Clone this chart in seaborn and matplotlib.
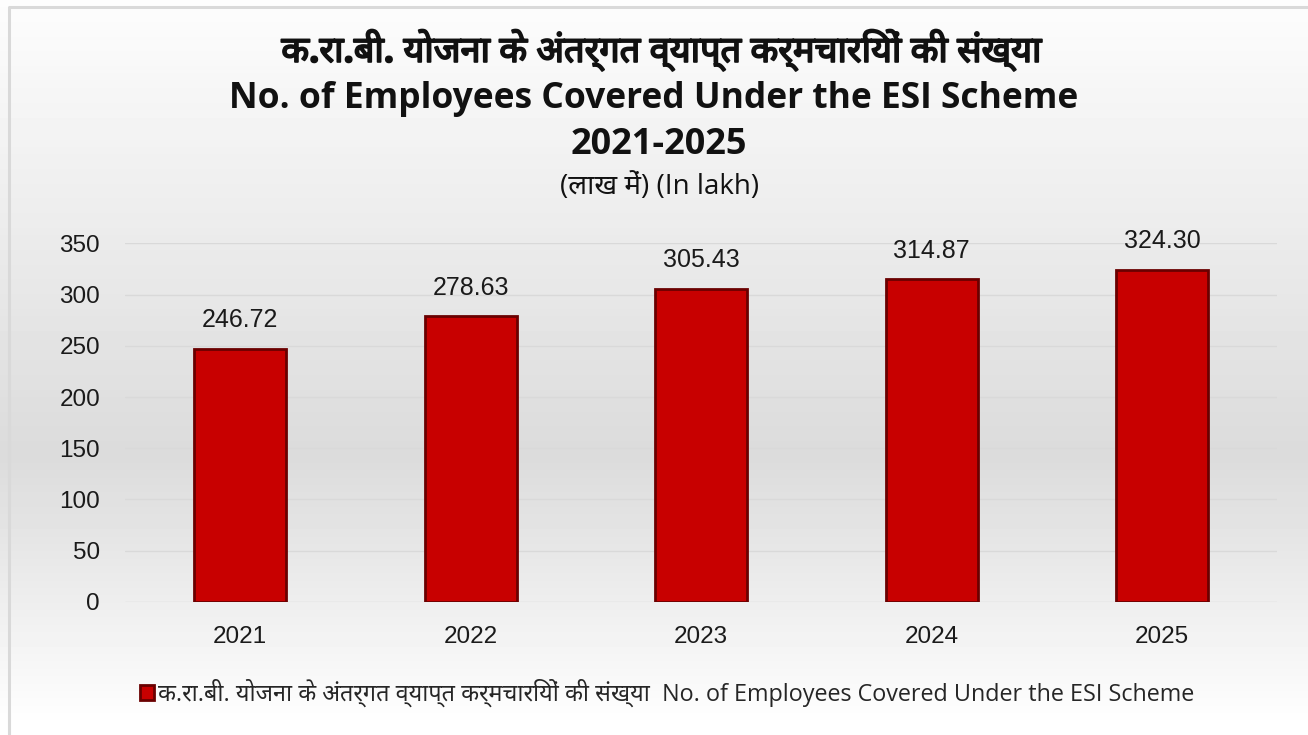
import numpy as np
import pandas as pd
import seaborn as sns
import matplotlib.pyplot as plt
import matplotlib.patheffects as pe

years = ['2021', '2022', '2023', '2024', '2025']
employees = [246.72, 278.63, 305.43, 314.87, 324.30]
yticks = [0, 50, 100, 150, 200, 250, 300, 350]

title_hi = 'क.रा.बी. योजना के अंतर्गत व्याप्त कर्मचारियों की संख्या'
title_en = 'No. of Employees Covered Under the ESI Scheme'
period = '2021-2025'
unit = '(लाख में) (In lakh)'
series = title_hi + '  ' + title_en

df = pd.DataFrame({'year': years, 'employees': employees})

sns.set_style('white')
plt.rcParams['font.family'] = ['Open Sans', 'Noto Sans', 'DejaVu Sans']

fig = plt.figure(figsize=(13.08, 7.35), dpi=100)

# light grey gradient background with a thin frame on the left/top
bg = fig.add_axes([0, 0, 1, 1], zorder=-10)
grad = np.concatenate([np.linspace(0.99, 0.86, 62), np.linspace(0.86, 1.0, 38)])
bg.imshow(grad[:, None], aspect='auto', cmap='gray', vmin=0, vmax=1, extent=[0, 1, 0, 1])
bg.plot([0.0065, 0.0065, 1.0], [0.0, 0.991, 0.991], color='#d9d9d9', lw=2.2)
bg.set_xlim(0, 1)
bg.set_ylim(0, 1)
bg.axis('off')

ax = fig.add_axes([0.0956, 0.181, 0.881, 0.488])
ax.patch.set_alpha(0)
sns.barplot(data=df, x='year', y='employees', color='#c80000', saturation=1,
            width=0.4, edgecolor='#6a0000', linewidth=2, label=series, ax=ax)
if ax.get_legend() is not None:
    ax.get_legend().remove()

for i, v in enumerate(employees):
    ax.text(i, v + 28, f'{v:.2f}', ha='center', va='center', fontsize=18,
            family='Liberation Sans', color='#1a1a1a')

ax.set_ylim(0, 350)
ax.set_yticks(yticks)
ax.yaxis.grid(True, color='#d9d9d9', lw=1)
ax.set_axisbelow(True)
for s in ax.spines.values():
    s.set_visible(False)
ax.set_xlabel('')
ax.set_ylabel('')
ax.tick_params(axis='both', length=0, labelsize=17.5, colors='#1a1a1a')
ax.tick_params(axis='y', pad=18)
ax.tick_params(axis='x', pad=17)
for t in ax.get_xticklabels() + ax.get_yticklabels():
    t.set_family('Liberation Sans')

# the devanagari font has no bold face, so thicken it with a stroke
fig.text(0.506, 0.932, title_hi, ha='center', va='center', fontsize=26, fontweight='bold',
         color='#111111', path_effects=[pe.withStroke(linewidth=1.3, foreground='#111111')])
fig.text(0.500, 0.865, title_en, ha='center', va='center', fontsize=25.5, fontweight='bold',
         color='#111111')
fig.text(0.504, 0.803, period, ha='center', va='center', fontsize=26, fontweight='bold',
         color='#111111')
fig.text(0.504, 0.745, unit, ha='center', va='center', fontsize=20, color='#111111')

handles, labels = ax.get_legend_handles_labels()
fig.legend(handles, labels, loc='center', bbox_to_anchor=(0.510, 0.057), frameon=False,
           fontsize=16.8, handlelength=0.6, handleheight=0.6, handletextpad=0.2)

fig.savefig('out.png', dpi=100)
